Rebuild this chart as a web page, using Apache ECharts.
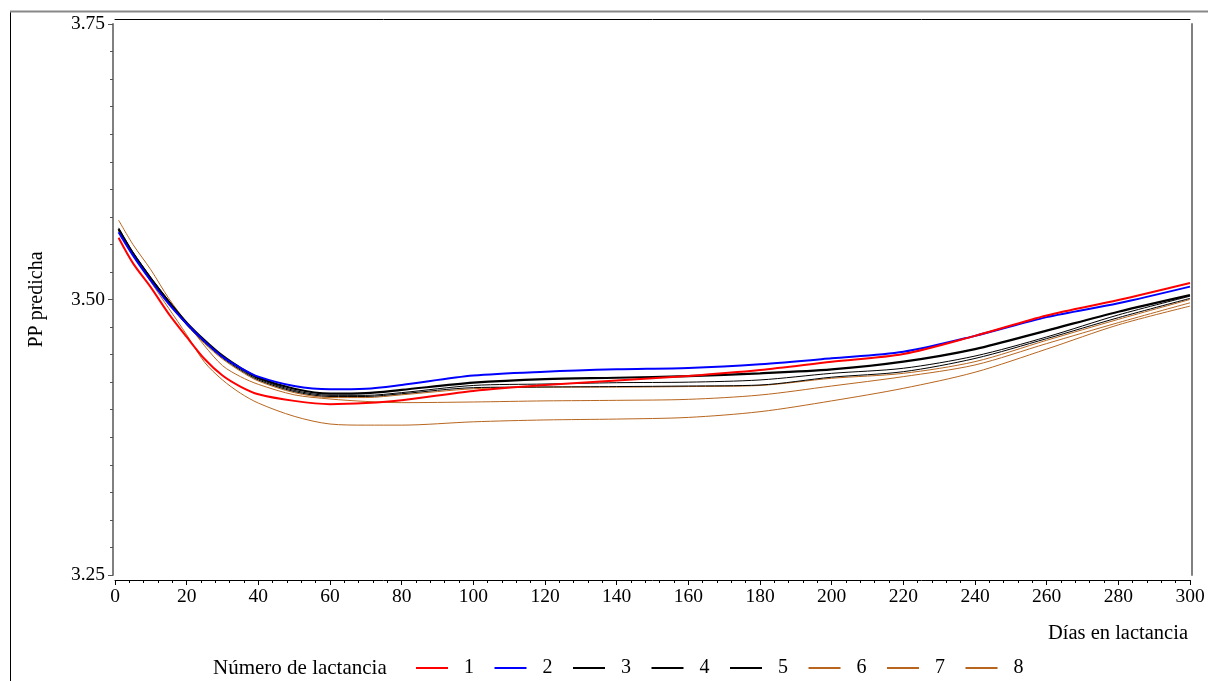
<!DOCTYPE html>
<html>
<head>
<meta charset="utf-8">
<script src="https://cdn.jsdelivr.net/npm/echarts@6/dist/echarts.min.js"></script>
<style>
html,body{margin:0;padding:0;background:#fff;}
#chart{width:1208px;height:681px;}
</style>
</head>
<body>
<div id="chart"></div>
<script>
// Days in lactation (x values)
const days = [1,5,10,15,20,25,30,35,40,50,60,70,80,100,120,140,160,180,200,220,240,260,280,300];
// Predicted PP per lactation number
const lact1 = [3.556,3.533,3.511,3.487,3.466,3.446,3.431,3.421,3.414,3.408,3.405,3.406,3.4085,3.417,3.4224,3.4265,3.4306,3.436,3.4435,3.4505,3.467,3.4855,3.4995,3.515];
const lact2 = [3.561,3.540,3.517,3.496,3.478,3.462,3.448,3.438,3.430,3.4215,3.4185,3.419,3.4225,3.431,3.4345,3.4366,3.4378,3.4412,3.4466,3.4526,3.467,3.484,3.4966,3.5117];
const lact3 = [3.564,3.542,3.519,3.498,3.479,3.463,3.449,3.438,3.429,3.419,3.4145,3.415,3.418,3.4245,3.4278,3.429,3.4305,3.433,3.4366,3.4436,3.455,3.4718,3.4889,3.504];
const lact4 = [3.565,3.543,3.520,3.499,3.479,3.462,3.448,3.437,3.428,3.4175,3.413,3.413,3.4155,3.422,3.4233,3.4245,3.425,3.427,3.433,3.4376,3.4487,3.466,3.486,3.503];
const lact5 = [3.563,3.541,3.518,3.497,3.477,3.461,3.447,3.436,3.427,3.4165,3.412,3.412,3.4145,3.420,3.4206,3.421,3.4215,3.4224,3.4295,3.4345,3.4465,3.4645,3.4835,3.501];
const lact6 = [3.562,3.540,3.517,3.496,3.477,3.460,3.446,3.435,3.426,3.4155,3.411,3.411,3.4135,3.419,3.4205,3.4205,3.421,3.422,3.4285,3.433,3.4436,3.463,3.482,3.500];
const lact7 = [3.572,3.550,3.527,3.501,3.479,3.458,3.440,3.430,3.423,3.4135,3.4097,3.4075,3.4064,3.407,3.408,3.4085,3.4094,3.4133,3.4215,3.430,3.4406,3.460,3.479,3.497];
const lact8 = [3.563,3.541,3.516,3.492,3.468,3.443,3.427,3.415,3.406,3.394,3.387,3.386,3.386,3.389,3.3907,3.3915,3.393,3.3982,3.408,3.4194,3.434,3.455,3.477,3.494];
const seriesNames = ['1','2','3','4','5','6','7','8'];
const seriesValues = [lact1,lact2,lact3,lact4,lact5,lact6,lact7,lact8];
const xTicks = {min:0,max:300,interval:20};
const yTicks = {min:3.25,max:3.75,interval:0.25};

const colors = ['#ff0000','#0000ff','#000000','#000000','#000000','#b8661f','#b8661f','#b8661f'];
const widths = [2,2,2.2,1,1,1,1,1];
const FONT = '"Liberation Serif","Times New Roman",serif';

const chart = echarts.init(document.getElementById('chart'));
const series = seriesValues.map((vals,i)=>({
  name: seriesNames[i],
  type: 'line',
  xAxisIndex: 0,
  yAxisIndex: 0,
  data: days.map((d,j)=>[d, vals[j]]),
  symbol: 'none',
  smooth: 0.3,
  lineStyle: {color: colors[i], width: widths[i]},
  itemStyle: {color: colors[i]},
  z: 10 - i
}));

chart.setOption({
  animation: false,
  backgroundColor: '#fff',
  textStyle: {fontFamily: FONT},
  grid: {left: 115, right: 18, top: 24, bottom: 106, containLabel: false},
  xAxis: [{
    type: 'value', min: xTicks.min, max: xTicks.max, interval: xTicks.interval,
    offset: 5,
    axisLine: {show: true, onZero: false, lineStyle: {color: '#000', width: 1}},
    axisTick: {show: true, length: 5, lineStyle: {color: '#000'}},
    minorTick: {show: true, splitNumber: 5, length: 3, lineStyle: {color: '#000'}},
    axisLabel: {fontSize: 19.5, color: '#000', margin: 7, fontFamily: FONT},
    splitLine: {show: false},
    name: 'Días en lactancia',
    nameLocation: 'end',
    nameGap: -2,
    nameTextStyle: {fontSize: 20.5, color: '#000', fontFamily: FONT, align: 'right', verticalAlign: 'top', padding: [43,0,0,0]}
  },{
    type: 'value', min: xTicks.min, max: xTicks.max, position: 'top', offset: 5,
    axisLine: {show: true, onZero: false, lineStyle: {color: '#000', width: 1}},
    axisTick: {show: false}, axisLabel: {show: false}, splitLine: {show: false}
  }],
  yAxis: [{
    type: 'value', min: yTicks.min, max: yTicks.max, interval: yTicks.interval,
    offset: 2,
    axisLine: {show: true, onZero: false, lineStyle: {color: '#808080', width: 2}},
    axisTick: {show: true, length: 5, lineStyle: {color: '#555'}},
    minorTick: {show: true, splitNumber: 10, length: 3, lineStyle: {color: '#555'}},
    axisLabel: {fontSize: 19.5, color: '#000', margin: 8, fontFamily: FONT, formatter: v => v.toFixed(2)},
    splitLine: {show: false},
    name: 'PP predicha',
    nameLocation: 'middle',
    nameGap: 66,
    nameRotate: 90,
    nameTextStyle: {fontSize: 20, color: '#000', fontFamily: FONT}
  },{
    type: 'value', min: yTicks.min, max: yTicks.max, position: 'right', offset: 2,
    axisLine: {show: true, onZero: false, lineStyle: {color: '#808080', width: 2}},
    axisTick: {show: false}, axisLabel: {show: false}, splitLine: {show: false}
  }],
  legend: {
    data: seriesNames,
    left: 410,
    top: 653,
    orient: 'horizontal',
    itemWidth: 32,
    itemHeight: 20,
    itemGap: 19.5,
    itemStyle: {opacity: 0},
    textStyle: {fontSize: 20, color: '#000', fontFamily: FONT, padding: [0,0,0,11]}
  },
  graphic: [
    {type: 'line', shape: {x1: 10.5, y1: 11, x2: 10.5, y2: 681}, style: {stroke: '#000', lineWidth: 1}, silent: true},
    {type: 'line', shape: {x1: 10, y1: 11.5, x2: 1208, y2: 11.5}, style: {stroke: '#888', lineWidth: 2}, silent: true},
    {type: 'text', left: 213, top: 656, style: {text: 'Número de lactancia', fontSize: 21, fontFamily: FONT, fill: '#000', lineHeight: 24}}
  ],
  series: series
});
</script>
</body>
</html>
